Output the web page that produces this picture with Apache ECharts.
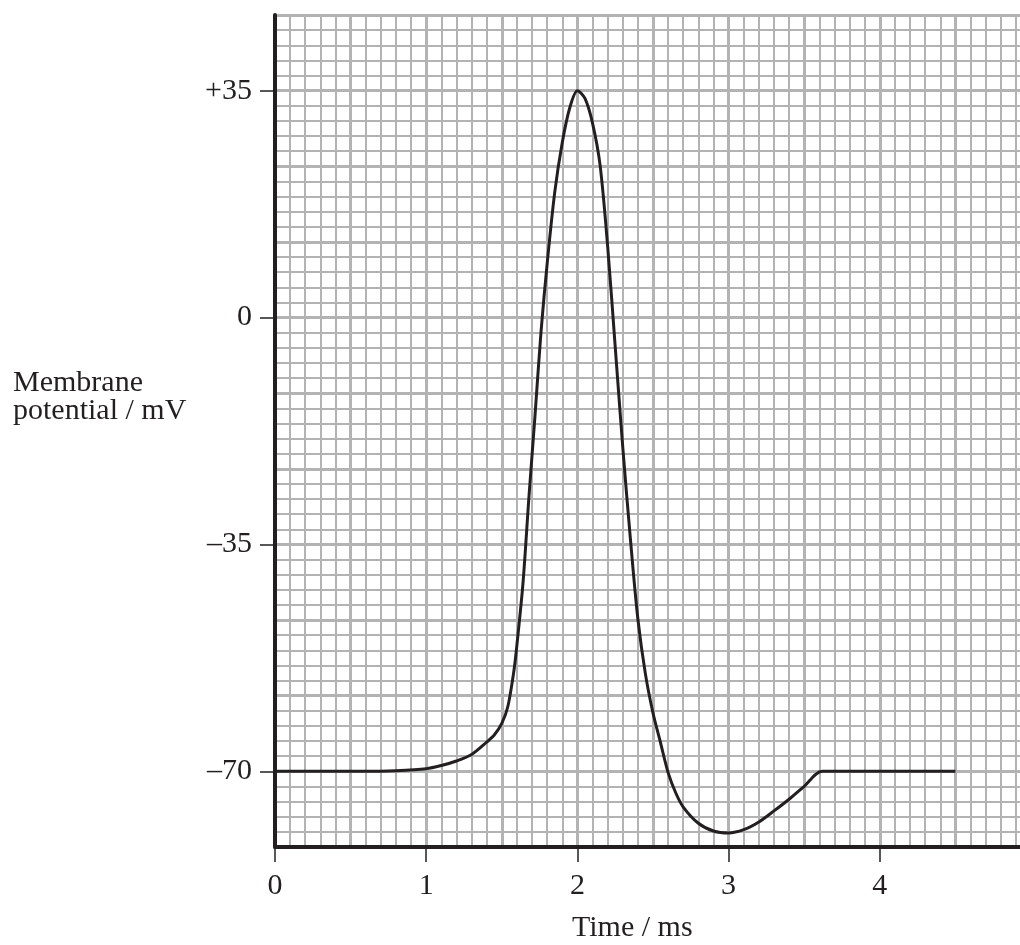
<!DOCTYPE html>
<html>
<head>
<meta charset="utf-8">
<script src="https://cdn.jsdelivr.net/npm/echarts@6/dist/echarts.min.js"></script>
<style>
  html, body { margin: 0; padding: 0; background: #fff; overflow: hidden; }
  /* the graph paper runs on past the right edge of the page */
  #chart { width: 1031px; height: 945px; }
</style>
</head>
<body>
<div id="chart"></div>
<script>
// time in ms, membrane potential in mV
const timeMs = [0, 0.6, 0.8, 1.0, 1.1, 1.2, 1.3, 1.4, 1.45, 1.5, 1.54, 1.58, 1.6, 1.64, 1.68, 1.72, 1.76, 1.8,
    1.85, 1.9, 1.95, 2.0, 2.05, 2.1, 2.15, 2.2, 2.25, 2.3, 2.35, 2.4, 2.45, 2.5, 2.55, 2.6, 2.65, 2.7,
    2.8, 2.9, 3.0, 3.1, 3.2, 3.3, 3.4, 3.5, 3.62, 4.5];
const potentialMv = [-70, -70, -69.9, -69.6, -69.1, -68.4, -67.4, -65.5, -64.4, -62.6, -60, -54.5, -50.5, -41, -27.5, -15, -2, 8.3,
    19.3, 27, 32.4, 35, 33.8, 30, 23.5, 11, -4.5, -20, -34, -46.5, -55, -61, -65.6, -70.2, -73.3, -75.5,
    -78, -79.2, -79.5, -79, -77.8, -76.1, -74.3, -72.3, -70, -70];
const yTickValues = [-70, -35, 0, 35];

const ink = '#231f20';
const gridGrey = '#b3b3b3';
const serif = '"Liberation Serif", "DejaVu Serif", serif';
const xMin = 0, xMax = 5;
const yMin = -245 / 3, yMax = 140 / 3;

const chart = echarts.init(document.getElementById('chart'));

// axis 0 draws the graph paper, axis 1 carries the ticks and numbers
const paperAxis = (interval) => ({
    type: 'value',
    interval: interval,
    axisLine: { show: false, onZero: false },
    axisTick: { show: false },
    axisLabel: { show: false },
    splitLine: { show: true, lineStyle: { color: gridGrey, width: 3 } },
    minorTick: { show: false, splitNumber: 5 },
    minorSplitLine: { show: true, lineStyle: { color: gridGrey, width: 2 } }
});

const option = {
    backgroundColor: '#fff',
    animation: false,
    grid: { left: 275, top: 15, right: 0, bottom: 98, containLabel: false },
    xAxis: [
        Object.assign(paperAxis(0.5), { min: xMin, max: xMax }),
        {
            type: 'value',
            min: xMin,
            max: xMax,
            interval: 1,
            position: 'bottom',
            axisLine: { show: true, onZero: false, lineStyle: { color: ink, width: 4 } },
            axisTick: { show: true, length: 15, lineStyle: { color: ink, width: 1.5 } },
            axisLabel: {
                show: true, margin: 24, showMaxLabel: false,
                fontFamily: serif, fontSize: 30, color: ink
            },
            splitLine: { show: false }
        }
    ],
    yAxis: [
        Object.assign(paperAxis(35 / 3), { min: yMin, max: yMax }),
        {
            type: 'value',
            min: yMin,
            max: yMax,
            position: 'left',
            axisLine: { show: true, onZero: false, lineStyle: { color: ink, width: 4 } },
            axisTick: { show: true, customValues: yTickValues, length: 15, lineStyle: { color: ink, width: 1.5 } },
            axisLabel: {
                show: true, customValues: yTickValues, margin: 23,
                fontFamily: serif, fontSize: 30, color: ink,
                formatter: function (v) {
                    const r = Math.round(v);
                    if (r > 0) return '+' + r;
                    if (r < 0) return '\u2013' + Math.abs(r);
                    return '0';
                }
            },
            splitLine: { show: false }
        }
    ],
    graphic: [
        { type: 'text', left: 13, top: 368, style: { text: 'Membrane', font: '30px ' + serif, fill: ink } },
        { type: 'text', left: 13, top: 396, style: { text: 'potential / mV', font: '30px ' + serif, fill: ink } },
        { type: 'text', left: 572, top: 913, style: { text: 'Time / ms', font: '30px ' + serif, fill: ink } }
    ],
    series: [{
        type: 'line',
        xAxisIndex: 0,
        yAxisIndex: 0,
        data: timeMs.map((t, i) => [t, potentialMv[i]]),
        showSymbol: false,
        smooth: 0.3,
        lineStyle: { color: ink, width: 3 },
        z: 5
    }]
};

chart.setOption(option);
</script>
</body>
</html>
